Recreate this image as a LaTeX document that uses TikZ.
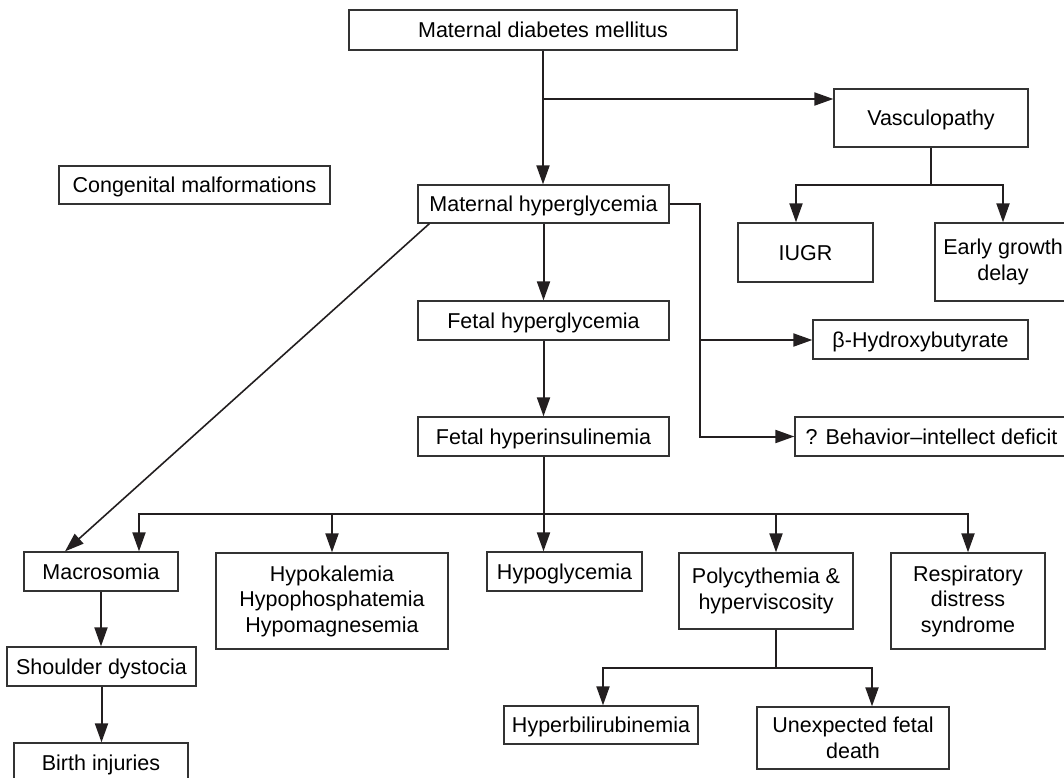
\documentclass[tikz,border=0pt]{standalone}
\usepackage{fontspec}
\setmainfont{Liberation Sans}
\usetikzlibrary{arrows.meta}
\definecolor{ink}{HTML}{231F20}
\definecolor{frame}{HTML}{333333}
\tikzset{
  box/.style={draw=frame, line width=1.3pt, inner sep=0pt, align=center,
    font=\fontsize{21.5}{25.5}\selectfont, text=black},
  one/.style={text height=15.2pt, text depth=0pt},
  link/.style={draw=ink, line width=2pt},
  arr/.style={link, -{Triangle[length=19pt,width=13pt]}},
}
\begin{document}
\begin{tikzpicture}[x=1pt,y=-1pt]
\useasboundingbox (0,0) rectangle (1064,777);
\clip (0,0) rectangle (1064,777);

% boxes
\node[box,one,minimum width=388,minimum height=40] (mdm) at (543,30) {Maternal diabetes mellitus};
\node[box,one,minimum width=194,minimum height=58] (vasc) at (931,118) {Vasculopathy};
\node[box,one,minimum width=271,minimum height=38] (cong) at (194.5,185) {Congenital malformations};
\node[box,one,minimum width=251,minimum height=38] (mhyp) at (543.5,204) {Maternal hyperglycemia};
\node[box,one,minimum width=135,minimum height=59] (iugr) at (805.5,252.5) {IUGR};
\node[box,minimum width=136,minimum height=78] (early) at (1003,262) {Early growth\\delay};
\node[box,one,minimum width=251,minimum height=39] (fhyp) at (543.5,320.5) {Fetal hyperglycemia};
\node[box,one,minimum width=215,minimum height=39] (bhb) at (920.5,339.5) {β-Hydroxybutyrate};
\node[box,one,minimum width=251,minimum height=39] (fins) at (543.5,436.5) {Fetal hyperinsulinemia};
\node[box,one,minimum width=273,minimum height=39] (beh) at (931.5,436.5) {? Behavior–intellect deficit};
\node[box,one,minimum width=154,minimum height=39] (macro) at (101,571.5) {Macrosomia};
\node[box,minimum width=232,minimum height=96] (hypok) at (332,601) {Hypokalemia\\Hypophosphatemia\\Hypomagnesemia};
\node[box,one,minimum width=155,minimum height=39] (hypog) at (564.5,571.5) {Hypoglycemia};
\node[box,minimum width=174,minimum height=76] (poly) at (766,591) {Polycythemia \&\\hyperviscosity};
\node[box,minimum width=154,minimum height=96] (resp) at (968,601) {Respiratory\\distress\\syndrome};
\node[box,one,minimum width=189,minimum height=39] (shoul) at (101.5,666.5) {Shoulder dystocia};
\node[box,one,minimum width=194,minimum height=38] (hbili) at (601,725) {Hyperbilirubinemia};
\node[box,minimum width=192,minimum height=62] (ufd) at (853,738) {Unexpected fetal\\death};
\node[box,one,minimum width=174,minimum height=39] (birth) at (101,762.5) {Birth injuries};

% junction points
\coordinate (j1) at (543,99);
\coordinate (v1) at (931,185);
\coordinate (h1) at (699,340);
\coordinate (bus) at (543.5,514);
\coordinate (p1) at (776,668);

% maternal diabetes
\draw[arr] (mdm.south) -- (mdm.south |- mhyp.north);
\draw[arr] (j1) -- (j1 -| vasc.west);

% vasculopathy
\draw[link] (vasc.south) -- (v1);
\draw[arr] (v1) -| ([xshift=-9.5]iugr.north);
\draw[arr] (v1) -| (early.north);

% maternal hyperglycemia
\draw[arr] (mhyp.east) -- ++(30,0) |- (beh.west);
\draw[arr] (h1) -- (h1 -| bhb.west);
\draw[arr] (mhyp.south) -- (mhyp.south |- fhyp.north);
\draw[arr] (fhyp.south) -- (fhyp.south |- fins.north);
\draw[arr, line width=1.6pt] ([xshift=12]mhyp.south west) -- ([xshift=-36]macro.north);

% fetal hyperinsulinemia
\draw[link] (fins.south) -- (bus);
\draw[arr] (bus) -| ([xshift=38]macro.north);
\draw[arr] (bus) -| (hypok.north);
\draw[arr] (bus) -- (bus |- hypog.north);
\draw[arr] (bus) -| ([xshift=10]poly.north);
\draw[arr] (bus) -| (resp.north);

% macrosomia chain
\draw[arr] (macro.south) -- (macro.south |- shoul.north);
\draw[arr] (shoul.south) -- (shoul.south |- birth.north);

% polycythemia
\draw[link] ([xshift=10]poly.south) -- (p1);
\draw[arr] (p1) -| ([xshift=2]hbili.north);
\draw[arr] (p1) -| ([xshift=19]ufd.north);
\end{tikzpicture}
\end{document}
